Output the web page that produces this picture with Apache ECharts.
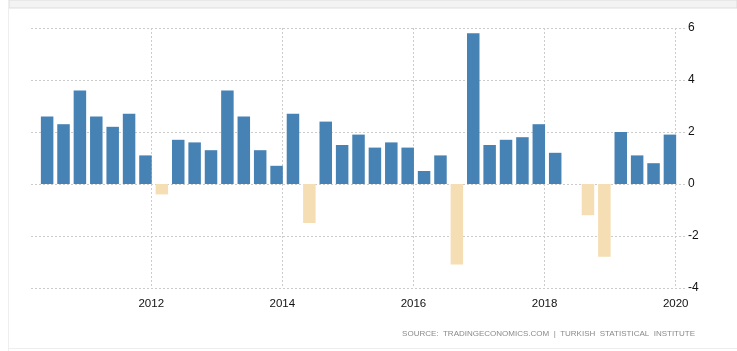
<!DOCTYPE html>
<html>
<head>
<meta charset="utf-8">
<script src="https://cdn.jsdelivr.net/npm/echarts@6/dist/echarts.min.js"></script>
<style>
  html, body { margin: 0; padding: 0; background: #fff; }
  #chart { width: 737px; height: 351px; }
</style>
</head>
<body>
<div id="chart"></div>
<script>
// quarterly GDP growth, 2010 Q2 .. 2019 Q4
var quarters = [
  '2010Q2', '2010Q3', '2010Q4', '2011Q1', '2011Q2', '2011Q3', '2011Q4',
  '2012Q1', '2012Q2', '2012Q3', '2012Q4', '2013Q1', '2013Q2', '2013Q3', '2013Q4',
  '2014Q1', '2014Q2', '2014Q3', '2014Q4', '2015Q1', '2015Q2', '2015Q3', '2015Q4',
  '2016Q1', '2016Q2', '2016Q3', '2016Q4', '2017Q1', '2017Q2', '2017Q3', '2017Q4',
  '2018Q1', '2018Q2', '2018Q3', '2018Q4', '2019Q1', '2019Q2', '2019Q3', '2019Q4'
];
var growth = [
  2.6, 2.3, 3.6, 2.6, 2.2, 2.7, 1.1,
  -0.4, 1.7, 1.6, 1.3, 3.6, 2.6, 1.3, 0.7,
  2.7, -1.5, 2.4, 1.5, 1.9, 1.4, 1.6, 1.4,
  0.5, 1.1, -3.1, 5.8, 1.5, 1.7, 1.8, 2.3,
  1.2, 0, -1.2, -2.8, 2.0, 1.1, 0.8, 1.9
];
var yearTicks = [2012, 2014, 2016, 2018, 2020];
var yTicks = [-4, -2, 0, 2, 4, 6];

// bars sit just before the end of their quarter
function quarterPos(q) {
  var y = parseInt(q.slice(0, 4), 10);
  var n = parseInt(q.slice(5), 10);
  return y + n / 4 - 0.088;
}

var barData = quarters.map(function (q, i) {
  return [quarterPos(q), growth[i]];
});

var chart = echarts.init(document.getElementById('chart'));
chart.setOption({
  animation: false,
  grid: { left: 31, right: 52, top: 28, bottom: 63 },
  xAxis: {
    type: 'value',
    min: 2010.166,
    max: 2020.142,
    axisLine: { show: false },
    axisTick: {
      show: true, length: 5, customValues: yearTicks,
      lineStyle: { color: '#ccc', type: [2, 2] }
    },
    axisLabel: {
      customValues: yearTicks, margin: 10,
      color: '#111', fontSize: 11.5, fontFamily: 'Liberation Sans, Arial',
      formatter: function (v) { return String(Math.round(v)); }
    },
    splitLine: { show: true, lineStyle: { color: '#ccc', type: [2, 2] } }
  },
  yAxis: {
    type: 'value',
    position: 'right',
    min: yTicks[0],
    max: yTicks[yTicks.length - 1],
    interval: 2,
    axisLine: { show: false },
    axisTick: { show: false },
    axisLabel: {
      margin: 3, color: '#111', fontSize: 12, fontFamily: 'Liberation Sans, Arial'
    },
    splitLine: { lineStyle: { color: '#ccc', type: [2, 2] } }
  },
  series: [{
    type: 'bar',
    data: barData,
    barWidth: 12.5,
    itemStyle: {
      color: function (p) { return p.value[1] < 0 ? '#f5deb3' : '#4682b4'; }
    }
  }],
  graphic: [
    { type: 'rect', shape: { x: 9, y: 0, width: 728, height: 8 },
      style: { fill: '#f3f3f3', stroke: '#ddd', lineWidth: 1 }, silent: true },
    { type: 'line', shape: { x1: 8.5, y1: 0, x2: 8.5, y2: 351 },
      style: { stroke: '#eee', lineWidth: 1 }, silent: true },
    { type: 'line', shape: { x1: 9, y1: 348.5, x2: 737, y2: 348.5 },
      style: { stroke: '#eee', lineWidth: 1 }, silent: true },
    { type: 'text', right: 42, top: 330,
      style: {
        text: 'SOURCE:  TRADINGECONOMICS.COM  |  TURKISH  STATISTICAL  INSTITUTE',
        fill: '#8a8a8a', fontSize: 8, fontFamily: 'Liberation Sans, Arial'
      }, silent: true }
  ]
});
</script>
</body>
</html>
